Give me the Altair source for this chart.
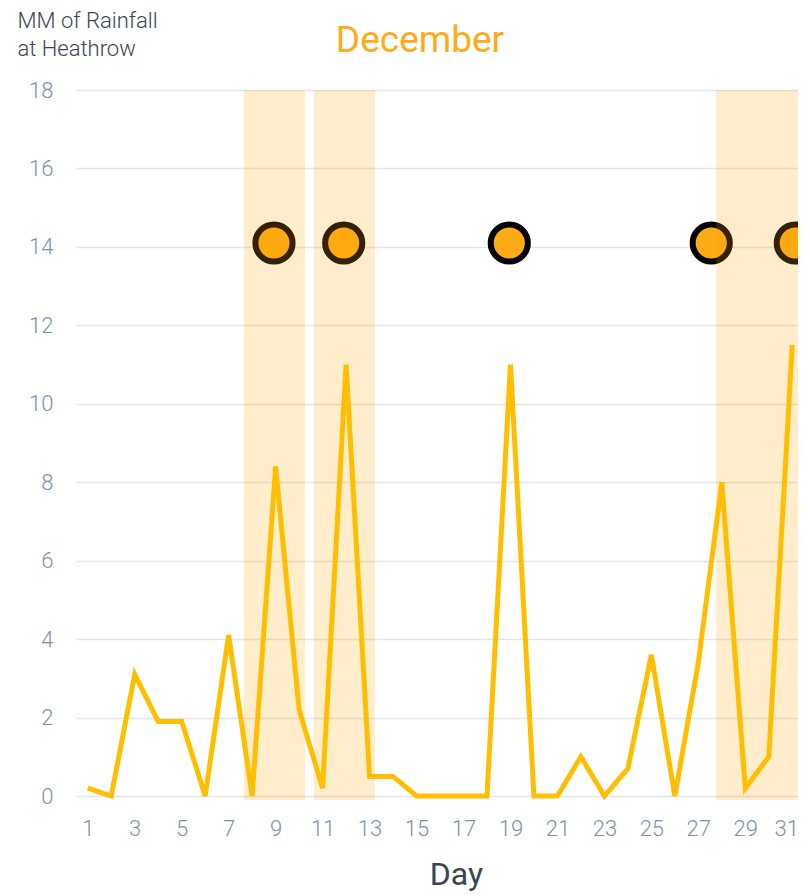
import altair as alt
import pandas as pd

days = list(range(1, 32))
rain = [0.2, 0, 3.1, 1.9, 1.9, 0, 4.1, 0, 8.4, 2.2, 0.2, 11, 0.5, 0.5, 0, 0, 0, 0,
        11, 0, 0, 1, 0, 0.7, 3.6, 0, 3.4, 8, 0.2, 1, 11.5]

marker_days = [8.93, 11.9, 18.95, 27.55, 31.13]
marker_vals = [14.1, 14.1, 14.1, 14.1, 14.1]

band_start = [7.65, 10.63, 27.76]
band_end = [10.25, 13.23, 31.7]
band_low = [-0.1, -0.1, -0.1]
band_high = [18, 18, 18]

x_ticks = list(range(1, 32, 2))
y_ticks = list(range(0, 19, 2))

title_text = ["December"]

FONT = "Roboto"
LABEL_COLOR = "#7d93a8"
DARK = "#3a4551"

line_df = pd.DataFrame({"day": days, "rain": rain})
mark_df = pd.DataFrame({"day": marker_days, "rain": marker_vals})
band_df = pd.DataFrame({"start": band_start, "end": band_end, "lo": band_low, "hi": band_high})
title_df = pd.DataFrame({"label": title_text})

xscale = alt.Scale(domain=[0.5, 31.5], nice=False, zero=False)
yscale = alt.Scale(domain=[0, 18], nice=False)

xaxis = alt.Axis(values=x_ticks, grid=False, domain=False, ticks=False, labelPadding=22,
                 labelFontSize=22, labelColor=LABEL_COLOR, labelFont=FONT, labelFontWeight=300,
                 labelOffset=alt.condition("datum.value == 31", alt.value(-6), alt.value(0)),
                 title="Day", titleFontSize=32, titleFont=FONT, titleFontWeight=400,
                 titleColor=DARK, titlePadding=20, titleX=380, titleAlign="center")
yaxis = alt.Axis(values=y_ticks, grid=True, gridColor="#e2e6ea", gridWidth=1.5,
                 domain=False, ticks=False, labelPadding=23, labelFontSize=22,
                 labelColor=LABEL_COLOR, labelFont=FONT, labelFontWeight=300,
                 title=["MM of Rainfall", "at Heathrow"], titleAngle=0, titleAlign="left",
                 titleBaseline="alphabetic", titleX=-59, titleY=-63, titleFontSize=22,
                 titleLineHeight=28, titleFont=FONT, titleFontWeight=300, titleColor=DARK)

circles = alt.Chart(mark_df).mark_point(
    shape="circle", filled=True, fill="#ffab16", stroke="#000000", strokeWidth=6,
    size=1380, opacity=1
).encode(
    x=alt.X("day:Q", scale=xscale, axis=xaxis),
    y=alt.Y("rain:Q", scale=yscale, axis=yaxis),
)

bands = alt.Chart(band_df).mark_rect(color="#ffa500", opacity=0.2).encode(
    x=alt.X("start:Q", scale=xscale),
    x2="end:Q",
    y=alt.Y("lo:Q", scale=yscale),
    y2="hi:Q",
)

line = alt.Chart(line_df).mark_line(color="#ffbf00", strokeWidth=5).encode(
    x=alt.X("day:Q", scale=xscale),
    y=alt.Y("rain:Q", scale=yscale),
)

title = alt.Chart(title_df).mark_text(
    fontSize=37, font=FONT, fontWeight=400, color="#ffab19",
    align="center", baseline="alphabetic"
).encode(
    text="label:N",
    x=alt.value(344),
    y=alt.value(-38),
)

chart = alt.layer(circles, bands, line, title).properties(
    width=728,
    height=706,
    autosize="none",
    padding={"left": 68, "top": 82, "right": -6, "bottom": 97},
).configure_view(stroke=None)

chart.save("out.html", embed_options={"renderer": "svg", "actions": False})
